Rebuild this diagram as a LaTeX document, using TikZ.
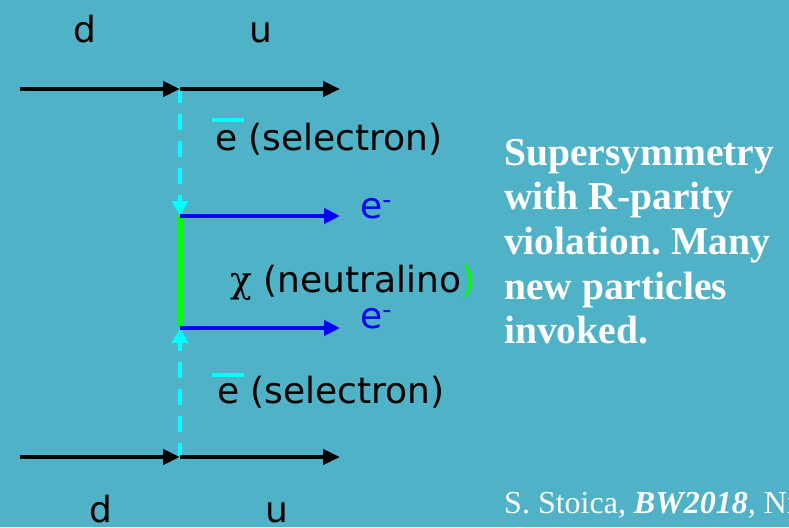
\documentclass[tikz,border=0pt]{standalone}
\usepackage{fontspec}
\setmainfont{DejaVu Sans}
\newfontfamily\notefont{Liberation Serif}
\newfontfamily\greekfont{DejaVu Serif}
\usetikzlibrary{arrows.meta}
\frenchspacing

\definecolor{slidebg}{RGB}{79,178,199}
\definecolor{scalar}{RGB}{0,255,255}
\definecolor{lepton}{RGB}{0,0,255}
\definecolor{gaugino}{RGB}{0,255,0}

\tikzset{
  lbl/.style={inner sep=0pt, anchor=base west, font=\fontsize{36}{40}\selectfont},
  quark/.style={draw=black, line width=4.3pt, -{Triangle[length=17pt,width=15pt]}},
  electron/.style={draw=lepton, line width=4pt, -{Triangle[length=16pt,width=15pt]}},
  sel/.style={draw=scalar, line width=4pt, dash pattern=on 16pt off 11pt,
              -{Triangle[length=15pt,width=16pt]}},
  neutralino/.style={draw=gaugino, line width=6pt},
  bar/.style={draw=scalar, line width=3.5pt},
  note/.style={inner sep=0pt, anchor=base west, text=white,
               font=\notefont\bfseries\fontsize{39.5}{44.5}\selectfont},
}

\begin{document}
\begin{tikzpicture}[x=1pt,y=-1pt]
  \fill[slidebg] (0,0) rectangle (789,527);
  \useasboundingbox (0,0) rectangle (789,527);
  \clip (0,0) rectangle (789,527);

  % vertices and line ends
  \coordinate (tin)  at (20,89);
  \coordinate (tv)   at (180,89);
  \coordinate (tout) at (340,89);
  \coordinate (bin)  at (20,457);
  \coordinate (bv)   at (180,457);
  \coordinate (bout) at (340,457);
  \coordinate (v1)   at (180,216);
  \coordinate (v2)   at (180,328);
  \coordinate (e1)   at (340,216);
  \coordinate (e2)   at (340,328);

  % neutralino exchange
  \draw[neutralino] (v1) -- (v2);

  % selectron propagators
  \draw[sel] ([yshift=2pt]tv) -- (v1);
  \draw[sel] ([yshift=-2pt]bv) -- (v2);

  % quark lines
  \draw[quark] (tin) -- (tv);
  \draw[quark] (tv) -- (tout);
  \draw[quark] (bin) -- (bv);
  \draw[quark] (bv) -- (bout);

  % outgoing electrons
  \draw[electron] (v1) -- (e1);
  \draw[electron] (v2) -- (e2);

  % quark labels
  \node[lbl] (dtop) at (73,43) {d};
  \node[lbl] (utop) at (249,43) {u};
  \node[lbl] (dbot) at (89,522) {d};
  \node[lbl] (ubot) at (265,522) {u};

  % selectron labels
  \node[lbl] (sel1) at (215,150) {e (selectron)};
  \draw[bar] (212,120) -- (244,120);
  \node[lbl] (sel2) at (217,403) {e (selectron)};
  \draw[bar] (212,375) -- (244,375);

  % neutralino label
  \node[lbl] (chi) at (230,292) {{\greekfont χ} (neutralino\textcolor{gaugino}{)}};

  % electron labels
  \node[lbl, text=lepton] (el1) at (360,218) {e\textsuperscript{-}};
  \node[lbl, text=lepton] (el2) at (360,328) {e\textsuperscript{-}};

  % explanatory text, one node per line
  \node[note] (txt1) at (504,165) {Supersymmetry};
  \node[note] (txt2) at (504,209) {with R-parity};
  \node[note] (txt3) at (504,254) {violation. Many};
  \node[note] (txt4) at (504,299) {new particles};
  \node[note] (txt5) at (504,343) {invoked.};

  % reference
  \node[inner sep=0pt, anchor=base west, text=white,
        font=\notefont\fontsize{32}{36}\selectfont] (ref) at (504,513)
    {S. Stoica, \textbf{\textit{BW2018}}, Ni};
\end{tikzpicture}
\end{document}
